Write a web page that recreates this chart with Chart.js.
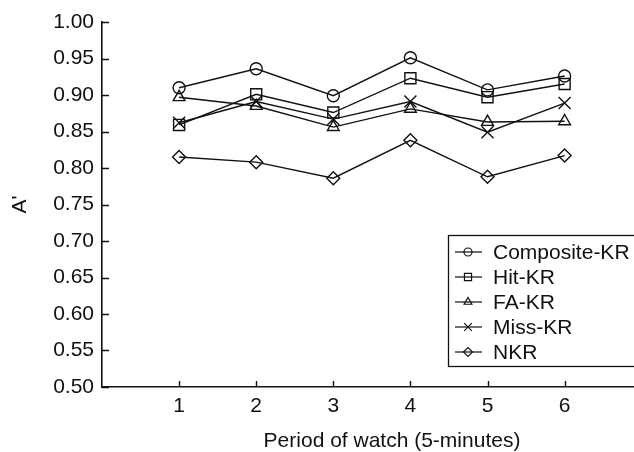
<!DOCTYPE html>
<html>
<head>
<meta charset="utf-8">
<title>A' by period of watch</title>
<script src="https://cdn.jsdelivr.net/npm/chart.js@4/dist/chart.umd.min.js"></script>
<style>
  html,body{margin:0;padding:0;background:#fff;overflow:hidden;}
  #wrap{width:634px;height:452px;}
</style>
</head>
<body>
<div id="wrap"><canvas id="chart" width="634" height="452"></canvas></div>
<script>
// data
const periods = [1, 2, 3, 4, 5, 6];
const compositeKR = [0.910, 0.936, 0.899, 0.951, 0.907, 0.926];
const hitKR = [0.859, 0.901, 0.876, 0.923, 0.897, 0.915];
const faKR = [0.897, 0.885, 0.856, 0.881, 0.863, 0.864];
const missKR = [0.862, 0.891, 0.867, 0.891, 0.849, 0.889];
const nkr = [0.815, 0.808, 0.786, 0.838, 0.788, 0.817];
const seriesNames = ['Composite-KR', 'Hit-KR', 'FA-KR', 'Miss-KR', 'NKR'];
const yTicks = [0.50, 0.55, 0.60, 0.65, 0.70, 0.75, 0.80, 0.85, 0.90, 0.95, 1.00];

const FONT = '"Liberation Sans", Arial, Helvetica, sans-serif';
const INK = '#111';

// marker style + size per series (plot size, legend size)
const markers = [
  { style:'circle', r:6, lr:4 },
  { style:'rect', r:7.8, lr:5 },
  { style:'triangle', r:6.8, lr:4.5 },
  { style:'crossRot', r:8.5, lr:5.5 },
  { style:'rectRot', r:6.5, lr:4.5 }
];
const allSeries = [compositeKR, hitKR, faKR, missKR, nkr];

const datasets = allSeries.map((vals, i) => ({
  label: seriesNames[i],
  data: periods.map((p, j) => ({ x: p, y: vals[j] })),
  borderColor: INK,
  borderWidth: 1.4,
  pointStyle: markers[i].style,
  pointRadius: markers[i].r,
  pointBorderColor: INK,
  pointBackgroundColor: 'rgba(0,0,0,0)',
  pointBorderWidth: 1.4,
  tension: 0,
  fill: false
}));

// inward tick marks, the boxed legend and the x title
const decor = {
  id: 'decor',
  afterDraw(chart){
    const ctx = chart.ctx, xs = chart.scales.x, ys = chart.scales.y, a = chart.chartArea;
    ctx.save();
    ctx.strokeStyle = INK; ctx.lineWidth = 1.4;
    ctx.beginPath();
    yTicks.forEach(v => { const y = Math.round(ys.getPixelForValue(v)) + 0.5; ctx.moveTo(a.left, y); ctx.lineTo(a.left + 7, y); });
    periods.forEach(p => { const x = Math.round(xs.getPixelForValue(p)) + 0.5; ctx.moveTo(x, a.bottom); ctx.lineTo(x, a.bottom - 6); });
    ctx.stroke();

    // legend box (runs off the right edge like the original)
    const bx = 448, by = 235, bh = 131;
    ctx.lineWidth = 1.3;
    ctx.strokeRect(bx + 0.5, by + 0.5, 220, bh);
    ctx.font = '21px ' + FONT; ctx.textBaseline = 'middle'; ctx.textAlign = 'left';
    seriesNames.forEach((name, i) => {
      const y = by + 17 + i * 25;
      ctx.beginPath(); ctx.lineWidth = 1.2; ctx.moveTo(bx + 7, y); ctx.lineTo(bx + 34, y); ctx.stroke();
      ctx.fillStyle = 'rgba(0,0,0,0)';
      Chart.helpers.drawPoint(ctx, { pointStyle: markers[i].style, radius: markers[i].lr, borderWidth: 1.2 }, bx + 20, y);
      ctx.fillStyle = INK;
      ctx.fillText(name, bx + 45, y + 1);
    });

    // x axis title
    ctx.fillStyle = INK; ctx.textAlign = 'center'; ctx.textBaseline = 'middle';
    ctx.fillText('Period of watch (5-minutes)', 392, 441);
    ctx.restore();
  }
};

new Chart(document.getElementById('chart'), {
  type: 'line',
  data: { datasets },
  options: {
    responsive: false,
    devicePixelRatio: 1,
    animation: false,
    layout: { autoPadding: false, padding: { top: 22, right: 0, left: 0, bottom: 0 } },
    plugins: { legend: { display: false }, tooltip: { enabled: false } },
    scales: {
      x: {
        type: 'linear', min: 0, max: 6.9,
        afterBuildTicks: s => { s.ticks = periods.map(v => ({ value: v })); },
        afterFit: s => { s.height = 65; s.paddingLeft = 0; s.paddingRight = 0; },
        grid: { display: true, drawOnChartArea: false, drawTicks: false },
        border: { display: true, color: INK, width: 1.6 },
        ticks: { color: INK, font: { family: FONT, size: 21 }, padding: 7, callback: v => String(v) }
      },
      y: {
        min: 0.5, max: 1.0,
        afterBuildTicks: s => { s.ticks = yTicks.map(v => ({ value: v })); },
        afterFit: s => { s.width = 102; s.paddingTop = 0; s.paddingBottom = 0; },
        grid: { display: true, drawOnChartArea: false, drawTicks: false },
        border: { display: true, color: INK, width: 1.6 },
        ticks: { color: INK, font: { family: FONT, size: 21 }, padding: 8, callback: v => Number(v).toFixed(2) },
        title: { display: true, text: "A'", color: INK, font: { family: FONT, size: 21 }, padding: { top: 8, bottom: 0 } }
      }
    }
  },
  plugins: [decor]
});
</script>
</body>
</html>
